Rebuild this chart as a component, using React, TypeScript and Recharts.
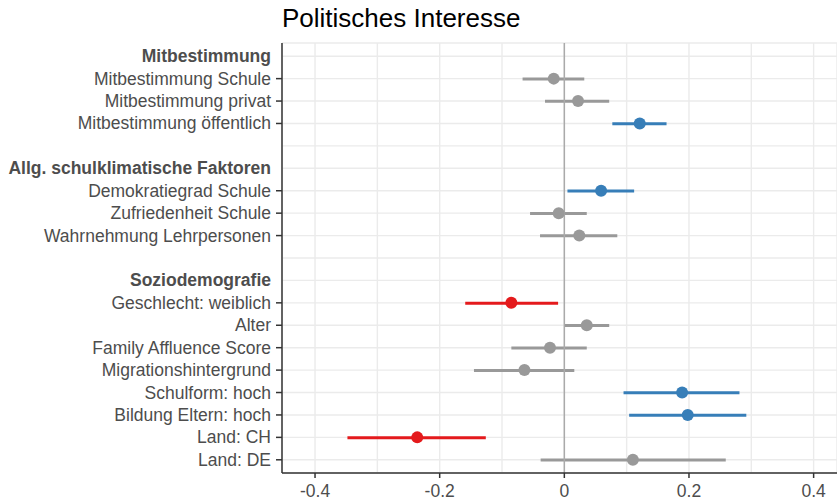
import React from 'react';
import {
  ComposedChart,
  Bar,
  Line,
  Cell,
  XAxis,
  YAxis,
  CartesianGrid,
  ReferenceLine,
} from 'recharts';

// rows from top to bottom, '' = spacer row
const labels = [
  'Mitbestimmung',
  'Mitbestimmung Schule',
  'Mitbestimmung privat',
  'Mitbestimmung öffentlich',
  '',
  'Allg. schulklimatische Faktoren',
  'Demokratiegrad Schule',
  'Zufriedenheit Schule',
  'Wahrnehmung Lehrpersonen',
  '',
  'Soziodemografie',
  'Geschlecht: weiblich',
  'Alter',
  'Family Affluence Score',
  'Migrationshintergrund',
  'Schulform: hoch',
  'Bildung Eltern: hoch',
  'Land: CH',
  'Land: DE',
];
const headerRows = [0, 5, 10];

const estimate = [null, -0.017, 0.022, 0.121, null, null, 0.059, -0.009, 0.024, null, null, -0.085, 0.036, -0.023, -0.064, 0.189, 0.198, -0.236, 0.11];
const lower = [null, -0.067, -0.031, 0.077, null, null, 0.005, -0.055, -0.039, null, null, -0.159, 0.0, -0.085, -0.145, 0.095, 0.104, -0.348, -0.038];
const upper = [null, 0.032, 0.072, 0.164, null, null, 0.112, 0.036, 0.085, null, null, -0.01, 0.072, 0.036, 0.016, 0.281, 0.292, -0.126, 0.259];
// ns = not significant, pos / neg = significant effect
const effect = ['', 'ns', 'ns', 'pos', '', '', 'pos', 'ns', 'ns', '', '', 'neg', 'ns', 'ns', 'ns', 'pos', 'pos', 'neg', 'ns'];

const xTicks = [-0.4, -0.3, -0.2, -0.1, 0, 0.1, 0.2, 0.3, 0.4];
const xLabels = ['-0.4', '', '-0.2', '', '0', '', '0.2', '', '0.4'];

const effectColors: Record<string, string> = {
  ns: '#999999',
  pos: '#377eb8',
  neg: '#e41a1c',
};

const font = '"Liberation Sans", Arial, sans-serif';

const data = labels.map((label, i) => ({
  id: `r${i}`,
  label,
  est: estimate[i],
  ci: lower[i] == null ? null : [lower[i], upper[i]],
  color: effectColors[effect[i]] || 'none',
}));

const YTick = (props: any) => {
  const { x, y, index } = props;
  const label = labels[index];
  const isHeader = headerRows.includes(index);
  return (
    <g>
      <text
        x={x - 11}
        y={y}
        dy={6}
        textAnchor="end"
        fontFamily={font}
        fontSize={17.5}
        fontWeight={isHeader ? 'bold' : 'normal'}
        fill="#4d4d4d"
      >
        {label}
      </text>
      {!isHeader && label !== '' && (
        <line x1={x - 6} x2={x} y1={y} y2={y} stroke="#333" strokeWidth={1.5} />
      )}
    </g>
  );
};

const XTick = (props: any) => {
  const { x, y, index } = props;
  const label = xLabels[index];
  if (!label) return <g />;
  return (
    <g>
      <line x1={x} x2={x} y1={y} y2={y + 5} stroke="#333" strokeWidth={1.5} />
      <text x={x} y={y + 24} textAnchor="middle" fontFamily={font} fontSize={17.5} fill="#4d4d4d">
        {label}
      </text>
    </g>
  );
};

const renderDot = (props: any) => {
  const { cx, cy, payload, index } = props;
  if (payload.est == null || cx == null || cy == null) return <g key={`d${index}`} />;
  return <circle key={`d${index}`} cx={cx} cy={cy} r={6} fill={payload.color} />;
};

const domain: [number, number] = [-0.453, 0.4375];

export default function App() {
  return (
    <div style={{ position: 'absolute', left: 0, top: 0, width: 837, height: 500, background: '#fff' }}>
      <div
        style={{
          position: 'absolute',
          left: 282,
          top: 5,
          fontFamily: font,
          fontSize: 26,
          lineHeight: '26px',
          color: '#000',
          whiteSpace: 'nowrap',
        }}
      >
        Politisches Interesse
      </div>
      <ComposedChart
        layout="vertical"
        width={837}
        height={500}
        data={data}
        margin={{ top: 43, right: 0, bottom: 0, left: 0 }}
      >
        <CartesianGrid stroke="#ebebeb" strokeWidth={1.4} />
        <XAxis
          type="number"
          domain={domain}
          allowDataOverflow
          ticks={xTicks}
          interval={0}
          tick={<XTick />}
          tickLine={false}
          tickSize={0}
          tickMargin={0}
          axisLine={{ stroke: '#333', strokeWidth: 1.5 }}
          height={27}
        />
        <XAxis
          xAxisId="top"
          orientation="top"
          type="number"
          domain={domain}
          allowDataOverflow
          tick={false}
          tickLine={false}
          axisLine={{ stroke: '#333', strokeWidth: 1.5 }}
          height={0}
        />
        <YAxis
          type="category"
          dataKey="id"
          width={282}
          interval={0}
          tick={<YTick />}
          tickLine={false}
          tickSize={0}
          tickMargin={0}
          axisLine={{ stroke: '#333', strokeWidth: 1.5 }}
          padding={{ top: 2, bottom: 2 }}
        />
        <ReferenceLine x={0} stroke="#aaaaaa" strokeWidth={1.5} />
        <Bar dataKey="ci" barSize={3} isAnimationActive={false}>
          {data.map((d) => (
            <Cell key={d.id} fill={d.color} />
          ))}
        </Bar>
        <Line
          dataKey="est"
          stroke="none"
          dot={renderDot}
          activeDot={false}
          isAnimationActive={false}
        />
      </ComposedChart>
    </div>
  );
}
